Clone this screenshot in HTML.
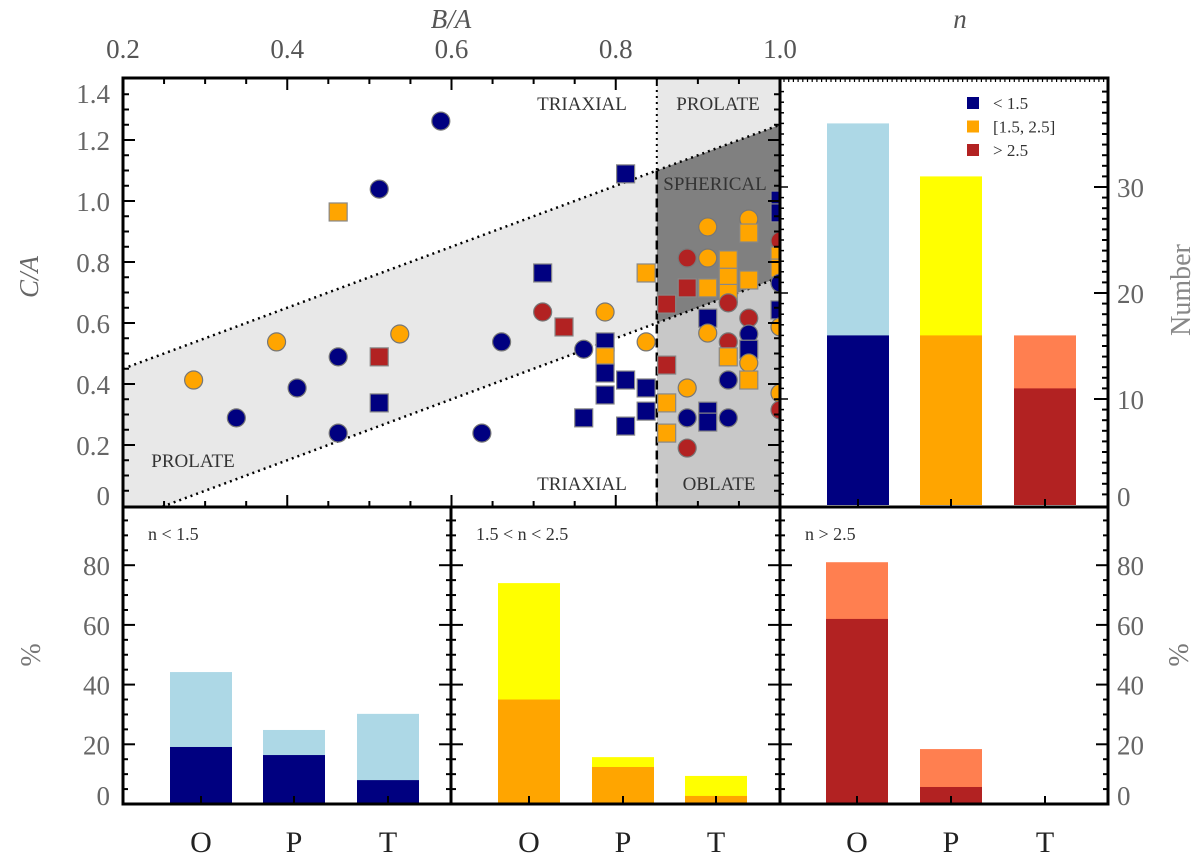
<!DOCTYPE html>
<html><head><meta charset="utf-8"><style>
body{margin:0;background:#fff;width:1200px;height:857px;overflow:hidden}
svg{display:block}
text{font-family:"Liberation Serif",serif}
</style></head><body>
<svg id="c" width="1200" height="857" viewBox="0 0 1200 857"></svg>
<script>
// ---- scatter data ----
const baVals=[0.286,0.338,0.387,0.412,0.462,0.462,0.462,0.512,0.512,0.512,0.537,0.587,0.812,0.711,0.837,0.711,0.787,0.737,0.661,0.637,0.761,0.787,0.787,0.787,0.787,0.812,0.761,0.812,0.837,0.837,0.837,0.862,0.862,0.862,0.862,0.912,0.887,0.912,0.887,0.912,0.937,0.937,0.937,0.937,0.962,0.962,0.962,0.912,0.912,0.962,0.962,0.937,0.962,0.937,0.962,0.962,0.937,0.887,0.887,0.912,0.912,0.937,0.887,1.0,1.0,1.0,1.0,1.0,1.0,1.0,1.0,1.0,1.0];
const caVals=[0.413,0.289,0.538,0.387,0.489,0.239,0.964,1.039,0.489,0.338,0.564,1.262,1.089,0.764,0.764,0.636,0.636,0.587,0.538,0.239,0.514,0.538,0.489,0.436,0.364,0.413,0.289,0.262,0.387,0.311,0.538,0.662,0.462,0.338,0.239,0.915,0.813,0.813,0.715,0.715,0.807,0.75,0.697,0.666,0.941,0.895,0.741,0.616,0.567,0.616,0.564,0.538,0.514,0.489,0.469,0.413,0.413,0.387,0.289,0.311,0.275,0.289,0.190,1.003,0.961,0.869,0.82,0.78,0.731,0.643,0.587,0.37,0.315];
const nClass=[1,0,1,0,0,0,1,0,2,0,1,0,0,0,1,2,1,2,0,0,0,0,1,0,0,0,0,0,0,0,1,2,2,1,1,1,2,1,2,1,1,1,1,2,1,1,1,0,1,2,0,2,0,1,1,1,0,1,0,0,0,0,2,0,0,2,1,1,0,0,1,1,2];
const shapes=["c","c","c","c","c","c","s","c","s","s","c","c","s","s","s","c","c","s","c","c","c","s","s","s","s","s","s","s","s","s","c","s","s","s","s","c","c","c","s","s","s","s","s","c","c","s","s","s","c","c","c","c","s","s","c","s","c","c","c","s","s","c","c","s","s","c","s","s","c","s","c","c","c"];
// ---- number histogram ----
const shapeCats=["O","P","T"];
const nTotals=[36,31,16];
const nLower=[16,16,11];
const numTicks=[0,10,20,30];
// ---- percent panels ----
const panelTitles=["n < 1.5","1.5 < n < 2.5","n > 2.5"];
const pctTotal=[[44.2,24.8,30.2],[74,15.7,9.4],[81,18.4,0]];
const pctLower=[[19.1,16.4,8.0],[35,12.4,2.7],[62,5.7,0]];
const pctTicks=[0,20,40,60,80];
const baTicks=[0.2,0.4,0.6,0.8,1.0];
const caTicks=[0,0.2,0.4,0.6,0.8,1.0,1.2,1.4];
const legendLabels=["< 1.5","[1.5, 2.5]","> 2.5"];

const dark=["#000080","#FFA500","#B22222"], light=["#ADD8E6","#FFFF00","#FF7F50"];
const NS="http://www.w3.org/2000/svg", svg=document.getElementById('c');
function el(t,a,p){const e=document.createElementNS(NS,t);for(const k in a)e.setAttribute(k,a[k]);(p||svg).appendChild(e);return e;}
function txt(s,x,y,a,p){const e=el('text',Object.assign({x:x,y:y},a),p);e.textContent=s;return e;}

// scatter scales
const X0=123,X1=780,Y0=78,Y1=507;
const sx=v=>X0+(v-0.2)*(X1-X0)/0.8;
const sy=v=>506-v*305;
// regions
let g=el('g',{'clip-path':'url(#clipS)'});
el('clipPath',{id:'clipS'}).appendChild(Object.assign(document.createElementNS(NS,'rect'),{}));
document.getElementById('clipS').firstChild.setAttribute('x',X0);
document.getElementById('clipS').firstChild.setAttribute('y',Y0);
document.getElementById('clipS').firstChild.setAttribute('width',X1-X0);
document.getElementById('clipS').firstChild.setAttribute('height',Y1-Y0);
const up=v=>v+0.25, lo=v=>v-0.25;
let r;
r=el('polygon',{points:`${sx(0.2)},${sy(up(0.2))} ${sx(0.85)},${sy(up(0.85))} ${sx(0.85)},${sy(lo(0.85))} ${sx(0.2)},${sy(lo(0.2))}`,fill:'#e8e8e8'},g);

r=el('polygon',{points:`${sx(0.85)},${Y0} ${X1},${Y0} ${X1},${sy(up(1))} ${sx(0.85)},${sy(up(0.85))}`,fill:'#e8e8e8'},g);

r=el('polygon',{points:`${sx(0.85)},${sy(up(0.85))} ${X1},${sy(up(1))} ${X1},${sy(lo(1))} ${sx(0.85)},${sy(lo(0.85))}`,fill:'#808080'},g);

r=el('polygon',{points:`${sx(0.85)},${sy(lo(0.85))} ${X1},${sy(lo(1))} ${X1},${Y1} ${sx(0.85)},${Y1}`,fill:'#c8c8c8'},g);

el('line',{x1:sx(0.2),y1:sy(up(0.2)),x2:X1,y2:sy(up(1)),stroke:'#000','stroke-width':2.5,'stroke-dasharray':'2 4'},g);
el('line',{x1:sx(0.2),y1:sy(lo(0.2)),x2:X1,y2:sy(lo(1)),stroke:'#000','stroke-width':2.5,'stroke-dasharray':'2 4'},g);
el('line',{x1:sx(0.85),y1:Y0,x2:sx(0.85),y2:sy(up(0.85)),stroke:'#000','stroke-width':2,'stroke-dasharray':'2 4'},g);
el('line',{x1:sx(0.85),y1:sy(up(0.85)),x2:sx(0.85),y2:Y1,stroke:'#000','stroke-width':2.5,'stroke-dasharray':'9 5'},g);
// points
for(let i=0;i<baVals.length;i++){
  const cx=sx(baVals[i]),cy=sy(caVals[i]),c=dark[nClass[i]];
  let m;
  if(shapes[i]==='c') m=el('circle',{cx:cx,cy:cy,r:9,fill:c,stroke:'#777','stroke-width':1.2},g);
  else m=el('rect',{x:cx-9,y:cy-9,width:18,height:18,fill:c,stroke:'#888','stroke-width':1.2},g);
  
  
}
// region labels
const rl=[["TRIAXIAL",582,110],["PROLATE",718,110],["SPHERICAL",715,190],["TRIAXIAL",582,490],["OBLATE",719,490],["PROLATE",193,467]];
rl.forEach(l=>{const t=txt(l[0],l[1],l[2],{'font-size':19,fill:'#333','text-anchor':'middle'});});
// scatter axes & ticks
el('rect',{x:X0,y:Y0,width:X1-X0,height:Y1-Y0,fill:'none',stroke:'#000','stroke-width':3});
for(let v=0.2;v<=1.0001;v+=0.05){const x=sx(v),maj=Math.abs(v*5-Math.round(v*5))<1e-6;const L=maj?12:6;
  el('line',{x1:x,y1:Y0,x2:x,y2:Y0+L,stroke:'#000','stroke-width':2});el('line',{x1:x,y1:Y1,x2:x,y2:Y1-L,stroke:'#000','stroke-width':2});}
for(let v=0.05;v<1.4;v+=0.05){const y=sy(v),maj=Math.abs(v*5-Math.round(v*5))<1e-6;const L=maj?12:6;
  el('line',{x1:X0,y1:y,x2:X0+L,y2:y,stroke:'#000','stroke-width':2});el('line',{x1:X1,y1:y,x2:X1-L,y2:y,stroke:'#000','stroke-width':2});}
baTicks.forEach(v=>{const t=txt(v.toFixed(1),sx(v),58,{'font-size':27,fill:'#555','text-anchor':'middle'});});
caTicks.forEach(v=>{const y=Math.max(93,Math.min(495,sy(v)));const t=txt(v===0?'0':v.toFixed(1),110,y+10,{'font-size':27,fill:'#666','text-anchor':'end'});});
let t=txt('B/A',451,28,{'font-size':27,'font-style':'italic',fill:'#555','text-anchor':'middle'});
t=txt('C/A',0,0,{'font-size':27,'font-style':'italic',fill:'#666','text-anchor':'middle',transform:'translate(38,277) rotate(-90)'});

// number histogram
const NX0=780,NX1=1108;
const ny=v=>505-v*10.6;
const ncx=[858,951,1045];
shapeCats.forEach((c,i)=>{
  let b=el('rect',{x:ncx[i]-31,y:ny(nTotals[i]),width:62,height:ny(0)-ny(nTotals[i]),fill:light[i]});
  
  b=el('rect',{x:ncx[i]-31,y:ny(nLower[i]),width:62,height:ny(0)-ny(nLower[i]),fill:dark[i]});
  
  el('line',{x1:ncx[i],y1:Y1,x2:ncx[i],y2:Y1-8,stroke:'#000','stroke-width':2});
});
el('rect',{x:NX0,y:Y0,width:NX1-NX0,height:Y1-Y0,fill:'none',stroke:'#000','stroke-width':3});
for(let v=1;v<40;v++){const y=ny(v);if(y<Y0)break;const L=v%10===0?14:6;
  el('line',{x1:NX1,y1:y,x2:NX1-L,y2:y,stroke:'#000','stroke-width':2});el('line',{x1:NX0,y1:y,x2:NX0+(v%10===0?8:4),y2:y,stroke:'#000','stroke-width':1.5});}
for(let x=NX0+4;x<NX1;x+=4.7){el('line',{x1:x,y1:Y0,x2:x,y2:Y0+4,stroke:'#000','stroke-width':1.2});}
numTicks.forEach(v=>{const y=Math.min(496,ny(v));const tt=txt(String(v),1117,y+10,{'font-size':27,fill:'#666'});});
t=txt('Number',0,0,{'font-size':28,fill:'#888','text-anchor':'middle',transform:'translate(1190,290) rotate(-90)'});
t=txt('n',960,28,{'font-size':27,'font-style':'italic',fill:'#555','text-anchor':'middle'});
legendLabels.forEach((l,i)=>{const y=103+i*23.5;
  let s=el('rect',{x:967,y:y-6,width:12,height:12,fill:dark[i]});
  const tt=txt(l,993,y+6,{'font-size':17,fill:'#333'});});

// percent panels
const PY0=507,PY1=804;
const py=v=>804-v*2.985;
const px=[[123,451],[451,780],[780,1108]];
const pcx=[[201,294,388],[529,623,716],[857,951,1045]];
pctTotal.forEach((tot,p)=>{
  shapeCats.forEach((c,i)=>{
    if(tot[i]>0){let b=el('rect',{x:pcx[p][i]-31,y:py(tot[i]),width:62,height:py(0)-py(tot[i]),fill:light[p]});
      }
    if(pctLower[p][i]>0){let b=el('rect',{x:pcx[p][i]-31,y:py(pctLower[p][i]),width:62,height:py(0)-py(pctLower[p][i]),fill:dark[p]});
      }
    el('line',{x1:pcx[p][i],y1:PY1,x2:pcx[p][i],y2:PY1-8,stroke:'#000','stroke-width':2});
    const tt=txt(c,pcx[p][i],852,{'font-size':30,fill:'#222','text-anchor':'middle'});
  });
  el('rect',{x:px[p][0],y:PY0,width:px[p][1]-px[p][0],height:PY1-PY0,fill:'none',stroke:'#000','stroke-width':3});
  for(let v=5;v<100;v+=5){const y=py(v),L=v%20===0?12:5;
    el('line',{x1:px[p][0],y1:y,x2:px[p][0]+L,y2:y,stroke:'#000','stroke-width':2});
    el('line',{x1:px[p][1],y1:y,x2:px[p][1]-L,y2:y,stroke:'#000','stroke-width':2});}
  const tt=txt(panelTitles[p],px[p][0]+25,540,{'font-size':18,fill:'#333'});
});
pctTicks.forEach(v=>{const y=Math.min(795,py(v));
  let tt=txt(String(v),110,y+10,{'font-size':27,fill:'#666','text-anchor':'end'});
  tt=txt(String(v),1117,y+10,{'font-size':27,fill:'#666'});});
t=txt('%',0,0,{'font-size':28,fill:'#777','text-anchor':'middle',transform:'translate(40,655) rotate(-90)'});
t=txt('%',0,0,{'font-size':28,fill:'#777','text-anchor':'middle',transform:'translate(1188,655) rotate(-90)'});
</script>
</body></html>
